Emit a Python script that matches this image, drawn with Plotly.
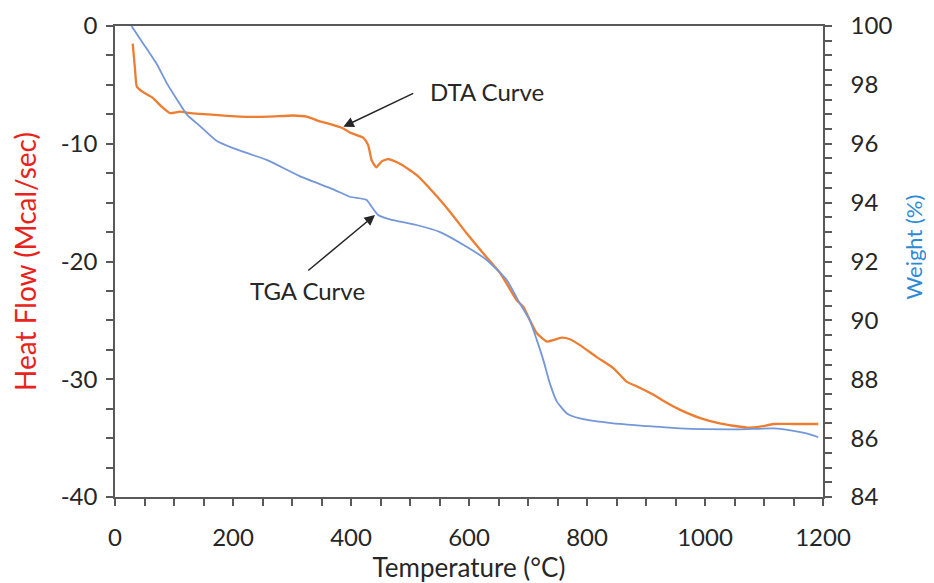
import plotly.graph_objects as go

# DTA curve (Heat flow, left axis)
dta_temp = [30, 34, 37, 47, 64, 79, 93, 110, 127, 144, 212, 260, 302, 325, 347, 359, 387, 398,
            421, 429, 435, 443, 452, 463, 483, 511, 539, 568, 596, 624, 653, 681, 692, 703, 715,
            732, 743, 757, 771, 788, 816, 845, 867, 884, 912, 935, 958, 992, 1025, 1048, 1071,
            1093, 1116, 1150, 1192]
dta_heat = [-1.5, -3.7, -5.15, -5.6, -6.1, -6.85, -7.4, -7.28, -7.4, -7.47, -7.7, -7.7, -7.6,
            -7.7, -8.1, -8.25, -8.7, -9.05, -9.5, -10.1, -11.4, -12.0, -11.5, -11.3, -11.7,
            -12.65, -14.1, -15.8, -17.6, -19.3, -21.0, -23.3, -23.84, -24.97, -26.1, -26.8,
            -26.67, -26.47, -26.6, -27.1, -28.1, -29.07, -30.2, -30.6, -31.3, -32.0, -32.6,
            -33.3, -33.75, -33.95, -34.1, -34.03, -33.8, -33.8, -33.8]

# TGA curve (Weight, right axis)
tga_temp = [28, 48, 71, 88, 105, 121.5, 144, 172, 200, 257, 313, 370, 398, 426.5, 435, 446, 466,
            511, 551, 596, 630, 664, 686, 703, 715, 726, 737, 749, 766, 788, 845, 901, 958, 1059,
            1116, 1150, 1172, 1192]
tga_weight = [100, 99.4, 98.7, 98.05, 97.5, 97.0, 96.6, 96.1, 95.85, 95.45, 94.9, 94.45, 94.2,
              94.09, 93.86, 93.58, 93.43, 93.24, 93.0, 92.5, 92.05, 91.37, 90.58, 90.01, 89.33,
              88.65, 87.86, 87.24, 86.84, 86.67, 86.5, 86.41, 86.33, 86.30, 86.33, 86.25, 86.16,
              86.03]

x_ticks = [0, 200, 400, 600, 800, 1000, 1200]
left_ticks = [0, -10, -20, -30, -40]
left_labels = ["0", "-10", "-20", "-30", "-40"]
right_ticks = [84, 86, 88, 90, 92, 94, 96, 98, 100]

FONT = "Lato"
AX = "#595959"
TXT = "#262626"
TICK_SIZE = 24

fig = go.Figure()
fig.add_trace(go.Scatter(x=tga_temp, y=tga_weight, yaxis="y2", mode="lines",
                         line=dict(color="#7397D8", width=1.8, shape="spline", smoothing=0.5),
                         name="TGA", showlegend=False))
fig.add_trace(go.Scatter(x=dta_temp, y=dta_heat, mode="lines",
                         line=dict(color="#ED7D31", width=2.3, shape="spline", smoothing=0.5),
                         name="DTA", showlegend=False))

tick_common = dict(ticks="outside", ticklen=7, tickwidth=1.5, tickcolor=AX, automargin=False,
                   showline=True, linecolor=AX, linewidth=1.5, showgrid=False, zeroline=False,
                   tickfont=dict(family=FONT, size=TICK_SIZE, color=TXT))

# the page body adds an 8 px offset, so the figure is sized 926x575
fig.update_layout(
    width=926, height=575,
    margin=dict(l=107, r=111, t=18, b=86),
    paper_bgcolor="white", plot_bgcolor="white",
    font=dict(family=FONT, size=TICK_SIZE, color=TXT),
    xaxis=dict(range=[0, 1200], tickvals=x_ticks, mirror=True,
               minor=dict(dtick=50, ticks="outside", ticklen=7, tickwidth=1.5, tickcolor=AX),
               ticklabelstandoff=11,
               title=dict(text="Temperature (°C)", font=dict(family=FONT, size=26, color=TXT),
                          standoff=7),
               **tick_common),
    yaxis=dict(range=[-40, 0], tickvals=left_ticks, ticktext=left_labels,
               minor=dict(dtick=2.5, ticks="outside", ticklen=7, tickwidth=1.5, tickcolor=AX),
               ticklabelstandoff=4,
               title=dict(text="Heat Flow (Mcal/sec)", font=dict(family=FONT, size=28, color="#E8231B"),
                          standoff=19),
               **tick_common),
    yaxis2=dict(range=[84, 100], tickvals=right_ticks, overlaying="y", side="right",
                minor=dict(dtick=0.5, ticks="outside", ticklen=7, tickwidth=1.5, tickcolor=AX),
                ticklabelstandoff=14,
                **tick_common),
)

fig.add_annotation(text="Weight (%)", textangle=-90, xref="paper", yref="paper",
                   x=1.128, y=0.531, xanchor="center", yanchor="middle", showarrow=False,
                   font=dict(family=FONT, size=22, color="#2F8AD6"))

arrow = dict(showarrow=True, arrowhead=2, arrowsize=1.4, arrowwidth=1.5, arrowcolor="#262626",
             xref="x", yref="y", axref="x", ayref="y", text="")
fig.add_annotation(x=387, y=-8.55, ax=508, ay=-5.66, **arrow)
fig.add_annotation(x=440.7, y=-16.05, ax=325, ay=-20.87, **arrow)
fig.add_annotation(x=631, y=-5.6, text="DTA Curve", showarrow=False, xref="x", yref="y",
                   font=dict(family=FONT, size=TICK_SIZE, color=TXT))
fig.add_annotation(x=326, y=-22.5, text="TGA Curve", showarrow=False, xref="x", yref="y",
                   font=dict(family=FONT, size=TICK_SIZE, color=TXT))

fig.write_html("out.html")
